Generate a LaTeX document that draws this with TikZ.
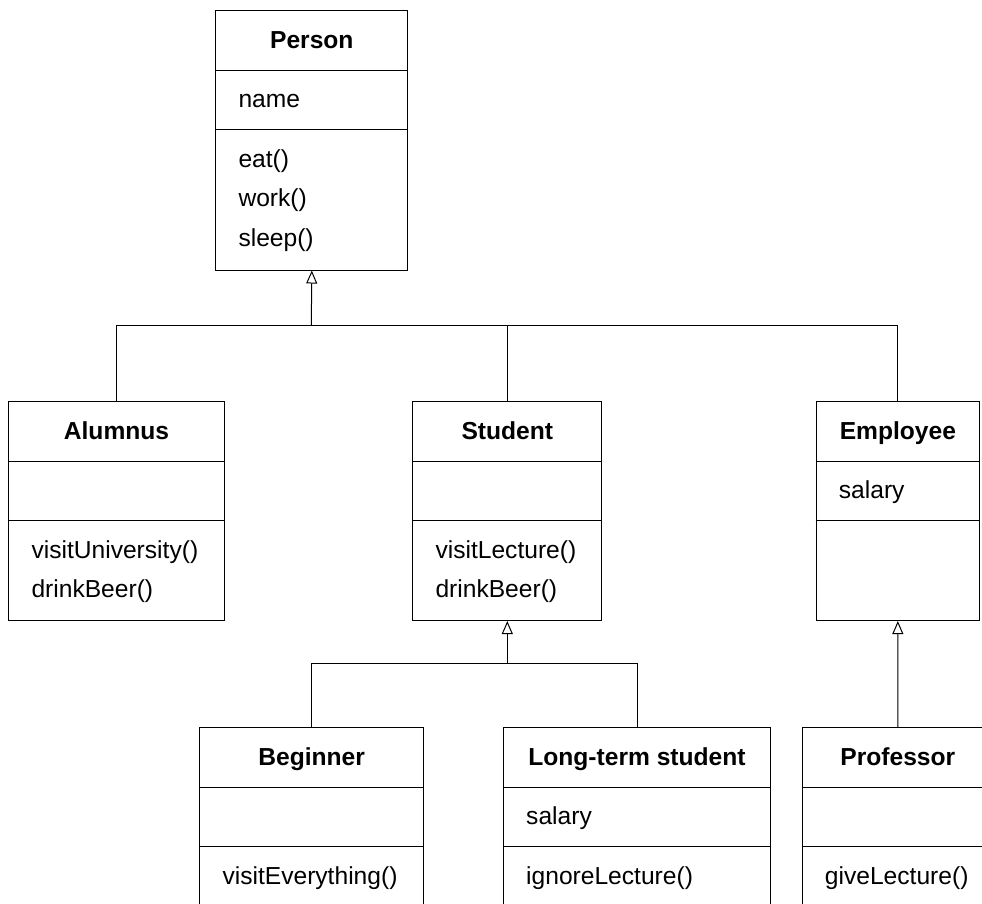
\documentclass[tikz,border=0pt]{standalone}
\usepackage{fontspec}
\setmainfont{Liberation Sans}
\usetikzlibrary{arrows.meta}
\tikzset{
  clsbox/.style={draw, line width=1pt, fill=white, inner sep=0pt, anchor=north west},
  clstitle/.style={font=\fontsize{24.6}{29}\selectfont\bfseries, anchor=base, inner sep=0pt},
  clstext/.style={font=\fontsize{24.6}{29}\selectfont, anchor=base west, inner sep=0pt},
  compline/.style={line width=1pt},
  conn/.style={line width=1pt},
  gen/.style={conn, -{Triangle[open, length=13pt, width=11pt, line width=1pt]}},
}
% #1 name, #2 left, #3 top, #4 width, #5 height, #6 title, #7 attribute, #8 methods
\newcommand\umlclass[8]{%
  \node[clsbox, minimum width=#4pt, minimum height=#5pt] (#1) at (#2,#3) {};
  \draw[compline] ([yshift=-60pt]#1.north west) -- ([yshift=-60pt]#1.north east);
  \draw[compline] ([yshift=-119.5pt]#1.north west) -- ([yshift=-119.5pt]#1.north east);
  \node[clstitle] (#1-title) at ([yshift=-38pt]#1.north) {#6};
  \node[clstext] (#1-attr) at ([xshift=23pt,yshift=-97pt]#1.north west) {#7};
  \foreach \m [count=\i] in {#8} {
    \node[clstext] (#1-m\i) at ([xshift=23pt,yshift={-157pt-39.5pt*(\i-1)}]#1.north west) {\m};
  }
}
\begin{document}
\begin{tikzpicture}[x=1pt, y=-1pt]
  \fill[white] (0,0) rectangle (982,903);
  \useasboundingbox (0,0) rectangle (982,903);
  \clip (0,0) rectangle (982,903);

  \umlclass{person}{215.3}{10}{192}{259.5}{Person}{name}{eat(),work(),sleep()}
  \umlclass{alumnus}{8.3}{401}{215.4}{218.5}{Alumnus}{}{visitUniversity(),drinkBeer()}
  \umlclass{student}{412.3}{401}{189}{219}{Student}{}{visitLecture(),drinkBeer()}
  \umlclass{employee}{815.7}{401}{163.3}{219}{Employee}{salary}{}
  \umlclass{beginner}{199.3}{727}{223.7}{200}{Beginner}{}{visitEverything()}
  \umlclass{longterm}{503}{727}{267}{200}{Long-term student}{salary}{ignoreLecture()}
  \umlclass{professor}{801.7}{727}{191.2}{200}{Professor}{}{giveLecture()}

  \coordinate (pbus) at (311.3,325.5);
  \coordinate (sbus) at (506.8,663);

  \draw[conn] (alumnus.north) |- (employee.north |- pbus) -- (employee.north);
  \draw[conn] (student.north) -- (student.north |- pbus);
  \draw[gen] (pbus) -- (person.south);

  \draw[conn] (beginner.north) |- (longterm.north |- sbus) -- (longterm.north);
  \draw[gen] (student.south |- sbus) -- (student.south);

  \draw[gen] (professor.north) -- (employee.south);
\end{tikzpicture}
\end{document}
